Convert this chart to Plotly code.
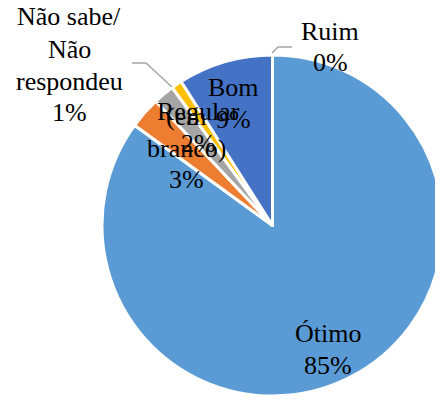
import plotly.graph_objects as go

# Data (clockwise from 12 o'clock)
labels = ["Ótimo", "(em branco)", "Regular", "Não sabe/ Não respondeu", "Bom", "Ruim"]
values = [85, 3, 2, 1, 9, 0]
label_lines = [["Ótimo"], ["(em", "branco)"], ["Regular"], ["Não sabe/", "Não", "respondeu"], ["Bom"], ["Ruim"]]

colors = ["#5B9BD5", "#ED7D31", "#A5A5A5", "#FFC000", "#4472C4", "#70AD47"]

W, H = 443, 400
OFF = 8  # page body margin compensation
FS = 26
LINE = 32
# pie geometry in target pixels
CX, CY, R = 272.5, 225.5, 170.5
# label positions: (centre x, baseline of first line) in target pixels
label_pos = [(328, 342), (186, 125), (198, 120), (69, 26), (233, 96), (330, 40)]


def px(x):
    return (x - OFF) / W


def py(y):
    return 1 - (y - OFF) / H


fig = go.Figure(go.Pie(
    labels=labels,
    values=values,
    sort=False,
    direction="clockwise",
    rotation=0,
    textinfo="none",
    hoverinfo="label+percent",
    marker=dict(colors=colors, line=dict(color="white", width=3)),
    domain=dict(x=[px(CX - R), px(CX + R)], y=[py(CY + R), py(CY - R)]),
    showlegend=False,
))

annotations = []
for lines, v, (lx, ly) in zip(label_lines, values, label_pos):
    for i, t in enumerate(lines + [f"{v}%"]):
        annotations.append(dict(
            x=px(lx), y=py(ly + i * LINE - 9), xref="paper", yref="paper",
            text=t, showarrow=False, xanchor="center", yanchor="middle",
            font=dict(family="Liberation Serif, Times New Roman, serif", size=FS, color="black"),
        ))


def path(pts):
    return "M " + " L ".join(f"{px(x)},{py(y)}" for x, y in pts)


shapes = [
    dict(type="path", xref="paper", yref="paper", path=path([(272, 53), (278, 47), (292, 47)]),
         line=dict(color="#A6A6A6", width=1.5)),
    dict(type="path", xref="paper", yref="paper", path=path([(132, 63), (146, 63), (172, 87)]),
         line=dict(color="#A6A6A6", width=1.5)),
]

fig.update_layout(
    width=W, height=H,
    margin=dict(l=0, r=0, t=0, b=0),
    paper_bgcolor="white",
    plot_bgcolor="white",
    annotations=annotations,
    shapes=shapes,
)

fig.write_html("out.html")
